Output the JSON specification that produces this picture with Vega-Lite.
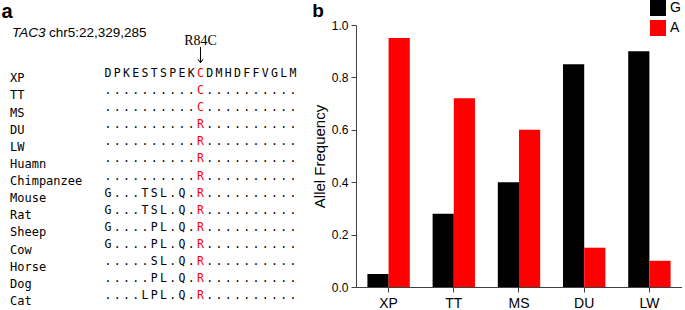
{
  "$schema": "https://vega.github.io/schema/vega-lite/v6.json",
  "background": "white",
  "padding": 0,
  "spacing": 56,
  "bounds": "flush",
  "config": {"view": {"stroke": null}, "font": "Liberation Sans"},
  "hconcat": [
    {
      "width": 300,
      "height": 285,
      "data": {
        "values": [
          {"species": "XP", "row": 0, "seq": ["D","P","K","E","S","T","S","P","E","K","C","D","M","H","D","F","F","V","G","L","M"], "pos": [0,1,2,3,4,5,6,7,8,9,10,11,12,13,14,15,16,17,18,19,20]},
          {"species": "TT", "row": 1, "seq": [".",".",".",".",".",".",".",".",".",".","C",".",".",".",".",".",".",".",".",".","."], "pos": [0,1,2,3,4,5,6,7,8,9,10,11,12,13,14,15,16,17,18,19,20]},
          {"species": "MS", "row": 2, "seq": [".",".",".",".",".",".",".",".",".",".","C",".",".",".",".",".",".",".",".",".","."], "pos": [0,1,2,3,4,5,6,7,8,9,10,11,12,13,14,15,16,17,18,19,20]},
          {"species": "DU", "row": 3, "seq": [".",".",".",".",".",".",".",".",".",".","R",".",".",".",".",".",".",".",".",".","."], "pos": [0,1,2,3,4,5,6,7,8,9,10,11,12,13,14,15,16,17,18,19,20]},
          {"species": "LW", "row": 4, "seq": [".",".",".",".",".",".",".",".",".",".","R",".",".",".",".",".",".",".",".",".","."], "pos": [0,1,2,3,4,5,6,7,8,9,10,11,12,13,14,15,16,17,18,19,20]},
          {"species": "Huamn", "row": 5, "seq": [".",".",".",".",".",".",".",".",".",".","R",".",".",".",".",".",".",".",".",".","."], "pos": [0,1,2,3,4,5,6,7,8,9,10,11,12,13,14,15,16,17,18,19,20]},
          {"species": "Chimpanzee", "row": 6, "seq": [".",".",".",".",".",".",".",".",".",".","R",".",".",".",".",".",".",".",".",".","."], "pos": [0,1,2,3,4,5,6,7,8,9,10,11,12,13,14,15,16,17,18,19,20]},
          {"species": "Mouse", "row": 7, "seq": ["G",".",".",".","T","S","L",".","Q",".","R",".",".",".",".",".",".",".",".",".","."], "pos": [0,1,2,3,4,5,6,7,8,9,10,11,12,13,14,15,16,17,18,19,20]},
          {"species": "Rat", "row": 8, "seq": ["G",".",".",".","T","S","L",".","Q",".","R",".",".",".",".",".",".",".",".",".","."], "pos": [0,1,2,3,4,5,6,7,8,9,10,11,12,13,14,15,16,17,18,19,20]},
          {"species": "Sheep", "row": 9, "seq": ["G",".",".",".",".","P","L",".","Q",".","R",".",".",".",".",".",".",".",".",".","."], "pos": [0,1,2,3,4,5,6,7,8,9,10,11,12,13,14,15,16,17,18,19,20]},
          {"species": "Cow", "row": 10, "seq": ["G",".",".",".",".","P","L",".","Q",".","R",".",".",".",".",".",".",".",".",".","."], "pos": [0,1,2,3,4,5,6,7,8,9,10,11,12,13,14,15,16,17,18,19,20]},
          {"species": "Horse", "row": 11, "seq": [".",".",".",".",".","S","L",".","Q",".","R",".",".",".",".",".",".",".",".",".","."], "pos": [0,1,2,3,4,5,6,7,8,9,10,11,12,13,14,15,16,17,18,19,20]},
          {"species": "Dog", "row": 12, "seq": [".",".",".",".",".","P","L",".","Q",".","R",".",".",".",".",".",".",".",".",".","."], "pos": [0,1,2,3,4,5,6,7,8,9,10,11,12,13,14,15,16,17,18,19,20]},
          {"species": "Cat", "row": 13, "seq": [".",".",".",".","L","P","L",".","Q",".","R",".",".",".",".",".",".",".",".",".","."], "pos": [0,1,2,3,4,5,6,7,8,9,10,11,12,13,14,15,16,17,18,19,20]}
        ]
      },
      "layer": [
        {
          "transform": [{"flatten": ["seq", "pos"]}],
          "mark": {"type": "text", "font": "DejaVu Sans Mono", "fontSize": 11.5, "baseline": "alphabetic", "align": "center", "dy": -5.5},
          "encoding": {
            "x": {"field": "pos", "type": "quantitative", "scale": {"domain": [-11.676, 20.757], "nice": false, "zero": false}, "axis": null},
            "y": {"field": "row", "type": "quantitative", "scale": {"domain": [-3.345, 13.292], "reverse": true, "nice": false, "zero": false}, "axis": null},
            "text": {"field": "seq"},
            "color": {"condition": {"test": "datum.pos === 10", "value": "#ff0000"}, "value": "#000000"}
          }
        },
        {
          "mark": {"type": "text", "font": "DejaVu Sans Mono", "fontSize": 12, "baseline": "alphabetic", "align": "left", "color": "black"},
          "encoding": {
            "x": {"datum": -10.595, "type": "quantitative"},
            "y": {"field": "row", "type": "quantitative"},
            "text": {"field": "species"}
          }
        },
        {
          "data": {"values": [{}]},
          "mark": {"type": "text", "text": "a", "font": "Liberation Sans", "fontSize": 20, "fontWeight": "bold", "baseline": "alphabetic", "align": "left", "color": "black"},
          "encoding": {"x": {"datum": -11.514, "type": "quantitative"}, "y": {"datum": -3.736, "type": "quantitative"}}
        },
        {
          "data": {"values": [{}]},
          "mark": {"type": "text", "text": "TAC3", "font": "Liberation Sans", "fontSize": 13.5, "fontStyle": "italic", "baseline": "alphabetic", "align": "left", "color": "black"},
          "encoding": {"x": {"datum": -10.378, "type": "quantitative"}, "y": {"datum": -2.673, "type": "quantitative"}}
        },
        {
          "data": {"values": [{}]},
          "mark": {"type": "text", "text": "chr5:22,329,285", "font": "Liberation Sans", "fontSize": 13.5, "baseline": "alphabetic", "align": "left", "color": "black"},
          "encoding": {"x": {"datum": -6.379, "type": "quantitative"}, "y": {"datum": -2.673, "type": "quantitative"}}
        },
        {
          "data": {"values": [{}]},
          "mark": {"type": "text", "text": "R84C", "font": "Liberation Serif", "fontSize": 14, "baseline": "alphabetic", "align": "center", "color": "black"},
          "encoding": {"x": {"datum": 10, "type": "quantitative"}, "y": {"datum": -2.177, "type": "quantitative"}}
        },
        {
          "data": {"values": [{}]},
          "mark": {"type": "rule", "color": "black", "strokeWidth": 1},
          "encoding": {"x": {"datum": 10, "type": "quantitative"}, "y": {"datum": -2.06, "type": "quantitative"}, "y2": {"datum": -1.14}}
        },
        {
          "data": {"values": [{}]},
          "mark": {"type": "point", "shape": "M-1,-1.4L0,0L1,-1.4", "filled": false, "stroke": "black", "strokeWidth": 1, "size": 25, "opacity": 1},
          "encoding": {"x": {"datum": 10, "type": "quantitative"}, "y": {"datum": -1.14, "type": "quantitative"}}
        }
      ]
    },
    {
      "width": 326,
      "height": 262,
      "title": {"text": "b", "anchor": "start", "frame": "bounds", "fontSize": 19, "fontWeight": "bold", "font": "Liberation Sans", "color": "black", "offset": -2},
      "data": {
        "values": [
          {"pop": "XP", "allele": "G", "freq": 0.05},
          {"pop": "XP", "allele": "A", "freq": 0.95},
          {"pop": "TT", "allele": "G", "freq": 0.28},
          {"pop": "TT", "allele": "A", "freq": 0.72},
          {"pop": "MS", "allele": "G", "freq": 0.40},
          {"pop": "MS", "allele": "A", "freq": 0.60},
          {"pop": "DU", "allele": "G", "freq": 0.85},
          {"pop": "DU", "allele": "A", "freq": 0.15},
          {"pop": "LW", "allele": "G", "freq": 0.90},
          {"pop": "LW", "allele": "A", "freq": 0.10}
        ]
      },
      "mark": {"type": "bar"},
      "encoding": {
        "x": {
          "field": "pop", "type": "nominal", "sort": ["XP", "TT", "MS", "DU", "LW"],
          "scale": {"paddingInner": 0.35, "paddingOuter": 0.175},
          "axis": {"title": null, "labelAngle": 0, "labelFontSize": 14, "labelFont": "Liberation Sans", "labelColor": "black", "tickSize": 5, "domainColor": "#404040", "tickColor": "#404040", "labelPadding": 4}
        },
        "xOffset": {"field": "allele", "type": "nominal", "sort": ["G", "A"]},
        "y": {
          "field": "freq", "type": "quantitative", "scale": {"domain": [0, 1]},
          "axis": {"title": "Allel Frequency", "values": [0, 0.2, 0.4, 0.6, 0.8, 1], "format": ".1f", "grid": false, "labelFontSize": 12, "labelFont": "Liberation Sans", "titleFont": "Liberation Sans", "titleFontSize": 15, "titleFontWeight": "normal", "titleColor": "black", "labelColor": "black", "tickSize": 5, "domainColor": "#404040", "tickColor": "#404040", "labelPadding": 3, "titlePadding": 4}
        },
        "color": {
          "field": "allele", "type": "nominal",
          "scale": {"domain": ["G", "A"], "range": ["#000000", "#ff0000"]},
          "legend": {"title": null, "orient": "none", "legendX": 650, "legendY": -25, "symbolType": "square", "symbolSize": 256, "symbolStrokeWidth": 0, "symbolOpacity": 1, "labelFontSize": 14, "labelFont": "Liberation Sans", "labelColor": "black", "rowPadding": 4, "padding": 0, "labelOffset": 4}
        }
      }
    }
  ]
}
